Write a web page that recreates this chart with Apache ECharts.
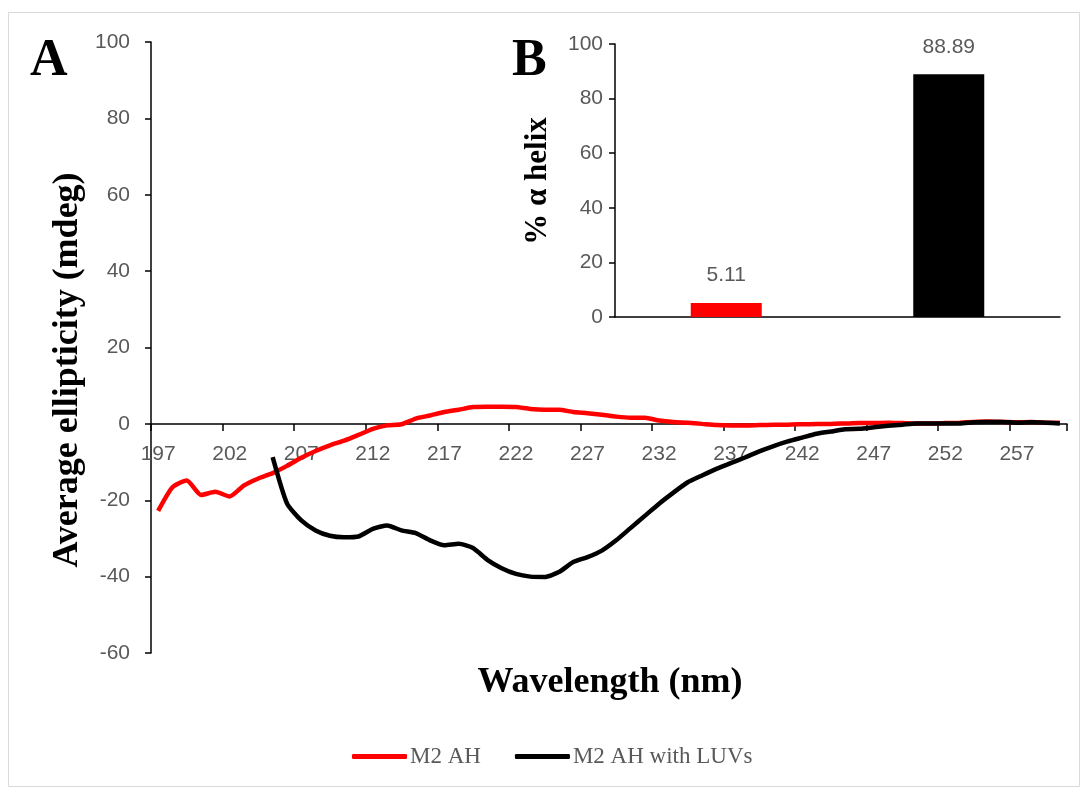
<!DOCTYPE html>
<html>
<head>
<meta charset="utf-8">
<script src="https://cdn.jsdelivr.net/npm/echarts@6/dist/echarts.min.js"></script>
<style>
html,body{margin:0;padding:0;background:#fff;}
#chart{width:1085px;height:790px;}
</style>
</head>
<body>
<div id="chart"></div>
<script>
// ---- data ----
var wavelengths = ['197','198','199','200','201','202','203','204','205','206','207','208','209','210','211','212','213','214','215','216','217','218','219','220','221','222','223','224','225','226','227','228','229','230','231','232','233','234','235','236','237','238','239','240','241','242','243','244','245','246','247','248','249','250','251','252','253','254','255','256','257','258','259','260'];
var m2ah = [-22.8,-16.6,-14.8,-18.6,-17.8,-19.0,-16.1,-14.3,-12.9,-11.0,-8.9,-7.1,-5.6,-4.4,-2.9,-1.3,-0.4,-0.1,1.4,2.2,3.1,3.7,4.4,4.5,4.5,4.4,3.9,3.7,3.7,3.1,2.8,2.4,1.9,1.6,1.6,0.9,0.5,0.3,0.0,-0.3,-0.4,-0.4,-0.3,-0.2,-0.2,-0.1,0.0,0.0,0.1,0.2,0.2,0.3,0.2,0.1,0.1,0.2,0.3,0.5,0.6,0.5,0.4,0.5,0.3,0.3];
var m2ahLuv = [null,null,null,null,null,null,null,null,
  -8.7,-20.8,-25.3,-27.9,-29.3,-29.7,-29.5,-27.5,-26.6,-27.9,-28.6,-30.5,-31.8,-31.4,
  -32.5,-35.6,-37.8,-39.3,-40.0,-40.1,
  -38.8,-36.2,-34.9,-33.2,-30.5,
  -27.3,-24.1,-20.9,-18.0,-15.3,
  -13.5,-11.8,-10.3,-8.8,-7.2,
  -5.8,-4.6,-3.6,-2.6,-2.0,
  -1.4,-1.3,-0.9,-0.5,-0.2,
  0.1,0.1,0.1,0.1,0.4,
  0.5,0.5,0.3,0.4,0.3,
  0.1];
var seriesNames = ['M2 AH','M2 AH with LUVs'];
var helixCategories = ['M2 AH','M2 AH with LUVs'];
var helixValues = [5.11, 88.89];
var yTicksMain = {min:-60, max:100, interval:20};
var yTicksInset = {min:0, max:100, interval:20};

var tickFont = 'Liberation Sans, Arial, sans-serif';
var serif = 'Liberation Serif, Times New Roman, serif';
var gray = '#595959';

var mainGrid = {left:151, top:42, width:916, height:611};
// x axis sits at value 0: offset from the grid bottom, derived from the y scale
var zeroOffset = -mainGrid.height * (0 - yTicksMain.min) / (yTicksMain.max - yTicksMain.min);

var chart = echarts.init(document.getElementById('chart'), null, {renderer:'canvas'});
var option = {
  backgroundColor:'#ffffff',
  animation:false,
  graphic:[
    {type:'rect', shape:{x:8.5,y:12.5,width:1071,height:774}, style:{fill:'none',stroke:'#d9d9d9',lineWidth:1}, z:-10},
    {type:'text', left:30, top:36, style:{text:'A', font:'bold 52px '+serif, fill:'#000'}},
    {type:'text', left:512, top:36, style:{text:'B', font:'bold 52px '+serif, fill:'#000'}},
    {type:'text', x:610, y:683, style:{text:'Wavelength (nm)', font:'bold 36px '+serif, fill:'#000', align:'center', verticalAlign:'middle'}},
    {type:'text', x:68, y:370, rotation:Math.PI/2, style:{text:'Average ellipticity (mdeg)', font:'bold 36px '+serif, fill:'#000', align:'center', verticalAlign:'middle'}},
    {type:'text', x:538, y:181, rotation:Math.PI/2, style:{text:'% α helix', font:'bold 31px '+serif, fill:'#000', align:'center', verticalAlign:'middle'}}
  ],
  legend:{
    data:seriesNames,
    left:347, top:740,
    icon:'roundRect',
    itemWidth:55, itemHeight:5, itemGap:34,
    textStyle:{fontFamily:serif, fontSize:23, color:gray, padding:[0,0,0,-2]}
  },
  grid:[
    mainGrid,
    {left:615, top:44, width:445, height:273}
  ],
  xAxis:[
    {type:'category', gridIndex:0, data:wavelengths, boundaryGap:true, position:'bottom', offset:zeroOffset,
     axisLine:{onZero:false, lineStyle:{color:'#000', width:1.5}},
     axisTick:{show:true, interval:4, length:7, lineStyle:{color:'#000', width:1.5}},
     axisLabel:{interval:4, margin:20, fontFamily:tickFont, fontSize:21, color:gray},
     splitLine:{show:false}},
    {type:'category', gridIndex:1, data:helixCategories,
     axisLine:{lineStyle:{color:'#000', width:1.5}},
     axisTick:{show:false}, axisLabel:{show:false}}
  ],
  yAxis:[
    {type:'value', gridIndex:0, min:yTicksMain.min, max:yTicksMain.max, interval:yTicksMain.interval,
     axisLine:{show:true, lineStyle:{color:'#000', width:1.5}},
     axisTick:{show:true, length:6, lineStyle:{color:'#000', width:1.5}},
     axisLabel:{margin:21, fontFamily:tickFont, fontSize:21, color:gray},
     splitLine:{show:false}},
    {type:'value', gridIndex:1, min:yTicksInset.min, max:yTicksInset.max, interval:yTicksInset.interval,
     axisLine:{show:true, lineStyle:{color:'#000', width:1.5}},
     axisTick:{show:true, length:6, lineStyle:{color:'#000', width:1.5}},
     axisLabel:{margin:12, fontFamily:tickFont, fontSize:21, color:gray},
     splitLine:{show:false}}
  ],
  series:[
    {name:seriesNames[0], type:'line', xAxisIndex:0, yAxisIndex:0, data:m2ah,
     symbol:'none', smooth:0.2, lineStyle:{color:'#ff0000', width:4.5}, itemStyle:{color:'#ff0000'}},
    {name:seriesNames[1], type:'line', xAxisIndex:0, yAxisIndex:0, data:m2ahLuv,
     symbol:'none', smooth:0.2, connectNulls:false, lineStyle:{color:'#000000', width:4.5}, itemStyle:{color:'#000000'}},
    {type:'bar', xAxisIndex:1, yAxisIndex:1, barWidth:71,
     data:[{value:helixValues[0], itemStyle:{color:'#ff0000'}},{value:helixValues[1], itemStyle:{color:'#000000'}}],
     label:{show:true, position:'top', distance:17, fontFamily:tickFont, fontSize:21, color:gray,
            formatter:function(p){return p.value.toFixed(2);}}}
  ]
};
chart.setOption(option);
</script>
</body>
</html>
